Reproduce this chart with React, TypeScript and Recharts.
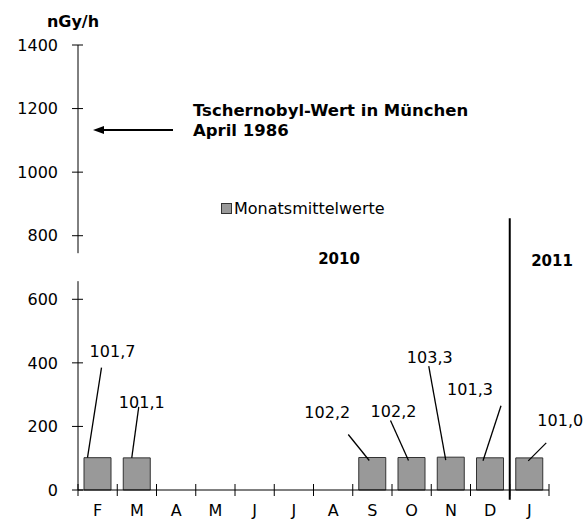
import { Bar, BarChart, LabelList, ReferenceLine, XAxis, YAxis } from "recharts"

const months = ["F", "M", "A", "M", "J", "J", "A", "S", "O", "N", "D", "J"]
const monthlyMeans = [101.7, 101.1, null, null, null, null, null, 102.2, 102.2, 103.3, 101.3, 101.0]
const yTicks = [0, 200, 400, 600, 800, 1000, 1200, 1400]
const yearLabels = ["2010", "2011"]
const seriesName = "Monatsmittelwerte"

// where each value label sits, relative to the top centre of its bar
const labelLayout: Record<number, { tx: number; ty: number; x1: number; y1: number; x2: number; y2: number }> = {
    0: { tx: 15, ty: -106, x1: 4, y1: -90, x2: -10, y2: 0 },
    1: { tx: 5, ty: -56, x1: 2, y1: -51, x2: -5, y2: 0 },
    7: { tx: -45, ty: -45, x1: -24, y1: -23, x2: -3, y2: 3 },
    8: { tx: -18, ty: -46, x1: -21, y1: -37, x2: -3, y2: 3 },
    9: { tx: -21, ty: -100, x1: -22, y1: -91, x2: -5, y2: 3 },
    10: { tx: -20, ty: -69, x1: 11, y1: -52, x2: -7, y2: 3 },
    11: { tx: 31, ty: -38, x1: 17, y1: -15, x2: -1, y2: 3 },
}

const data = months.map((m, i) => ({ id: i, month: m, value: monthlyMeans[i] }))

const FONT = "'DejaVu Sans', sans-serif"
const W = 587
const H = 520
const MARGIN = { top: 45, right: 38, bottom: 0, left: 18 }
const BAND = (W - 78 - MARGIN.right) / months.length

const YTick = ({ x, y, payload }: any) => (
    <g>
        <line x1={x - 6} x2={x + 5} y1={y} y2={y} stroke="#000" />
        <text x={x - 20} y={y} dy="0.36em" textAnchor="end" fontSize={16} fontFamily={FONT} fill="#000">
            {payload.value}
        </text>
    </g>
)

const XTick = ({ x, y, payload, index }: any) => (
    <g>
        {index === 0 && <line x1={x - BAND / 2} x2={x - BAND / 2} y1={y - 6} y2={y + 6} stroke="#000" />}
        <line x1={x + BAND / 2} x2={x + BAND / 2} y1={y - 6} y2={y + 6} stroke="#000" />
        <text x={x} y={y + 26} textAnchor="middle" fontSize={16} fontFamily={FONT} fill="#000">
            {months[payload.value]}
        </text>
    </g>
)

const ValueLabel = (props: any) => {
    const { x, y, width, value } = props
    const v = monthlyMeans[value]
    const l = labelLayout[value]
    if (v == null || !l) return null
    const cx = x + width / 2
    return (
        <g>
            <line x1={cx + l.x1} y1={y + l.y1} x2={cx + l.x2} y2={y + l.y2} stroke="#000" strokeWidth={1.3} />
            <text x={cx + l.tx} y={y + l.ty} dy="0.36em" textAnchor="middle" fontSize={16} fontFamily={FONT} fill="#000">
                {v.toFixed(1).replace(".", ",")}
            </text>
        </g>
    )
}

const App = () => {
    return (
        <div style={{ position: "absolute", left: 0, top: 0, width: W, height: H, background: "#fff" }}>
            <BarChart width={W} height={H} data={data} margin={MARGIN} barSize={27}>
                <XAxis
                    dataKey="id"
                    type="category"
                    tick={<XTick />}
                    tickLine={false}
                    tickSize={0}
                    tickMargin={0}
                    interval={0}
                    stroke="#000"
                    height={30}
                />
                <YAxis
                    domain={[0, 1400]}
                    ticks={yTicks}
                    tick={<YTick />}
                    axisLine={false}
                    tickLine={false}
                    tickSize={0}
                    tickMargin={0}
                    width={60}
                    interval={0}
                />
                <ReferenceLine segment={[{ x: 0, y: 0 }, { x: 0, y: 657 }]} position="start" stroke="#000" ifOverflow="visible" />
                <ReferenceLine segment={[{ x: 0, y: 745 }, { x: 0, y: 1400 }]} position="start" stroke="#000" ifOverflow="visible" />
                <ReferenceLine segment={[{ x: 11, y: 855 }, { x: 11, y: -31 }]} position="start" stroke="#000" strokeWidth={2} ifOverflow="visible" />
                <Bar dataKey="value" name={seriesName} fill="#999999" stroke="#333" strokeWidth={1} isAnimationActive={false}>
                    <LabelList dataKey="id" content={<ValueLabel />} />
                </Bar>
            </BarChart>
            <svg width={W} height={H} style={{ position: "absolute", left: 0, top: 0, pointerEvents: "none" }} fontFamily={FONT}>
                <text x={73} y={27} textAnchor="middle" fontSize={16} fontWeight="bold">nGy/h</text>
                <text x={193} y={116} fontSize={16.5} fontWeight="bold">Tschernobyl-Wert in München</text>
                <text x={193} y={136} fontSize={16.5} fontWeight="bold">April 1986</text>
                <line x1={173} x2={102} y1={130} y2={130} stroke="#000" strokeWidth={2} />
                <polygon points="93,130 104,126 104,134" fill="#000" />
                <text x={339} y={264} textAnchor="middle" fontSize={15} fontWeight="bold">{yearLabels[0]}</text>
                <text x={552} y={266} textAnchor="middle" fontSize={15} fontWeight="bold">{yearLabels[1]}</text>
                <rect x={221.5} y={203.5} width={10} height={10} fill="#999999" stroke="#333" />
                <text x={234} y={214} fontSize={16}>{seriesName}</text>
            </svg>
        </div>
    )
}

export default App
